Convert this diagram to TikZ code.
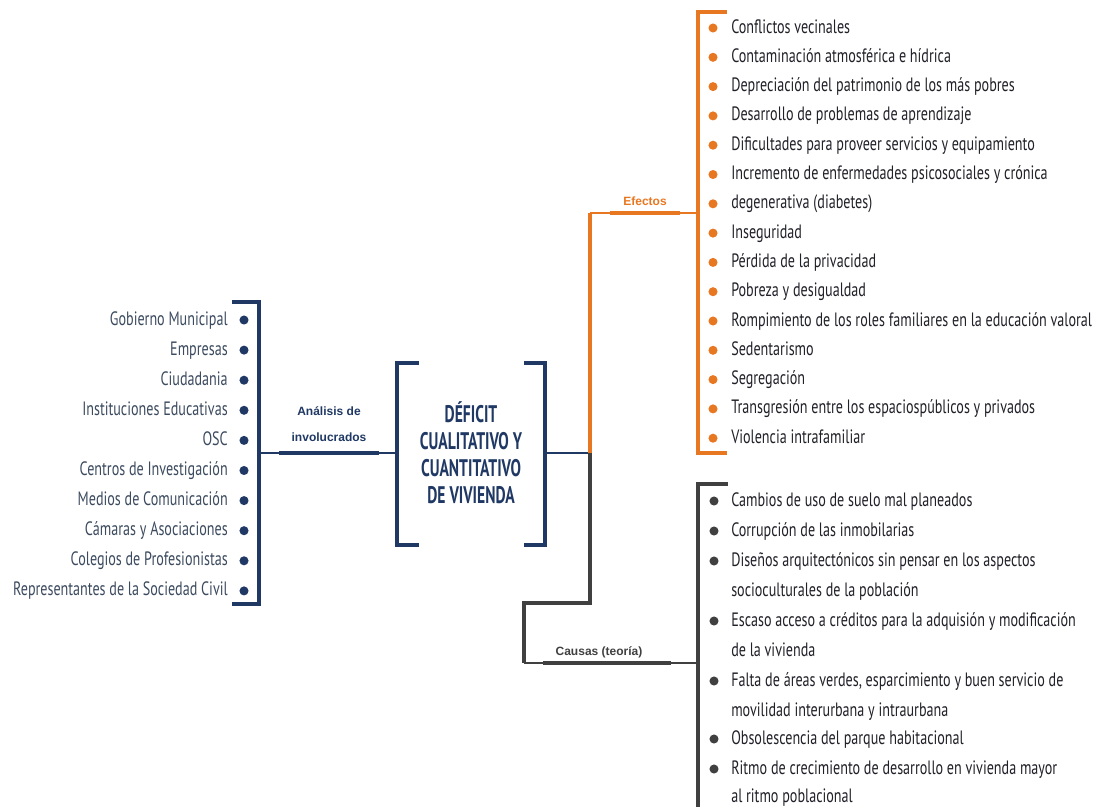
\documentclass[tikz,border=0pt]{standalone}
\usepackage{fontspec}
\newfontfamily\agency[FakeStretch=0.73]{PT Sans}
\newfontfamily\agencytitle[FakeStretch=0.65]{PT Sans}
\newfontfamily\labelfont{Liberation Sans}
\definecolor{DeficitNavy} {RGB}{31,56,100}
\definecolor{EffectOrange}{RGB}{232,119,34}
\definecolor{CauseGray}   {RGB}{64,64,64}
\definecolor{ListInk}     {RGB}{32,32,40}
\definecolor{ActorSlate}  {RGB}{59,74,94}
\usetikzlibrary{positioning,calc}

\begin{document}
\begin{tikzpicture}[x=0.75pt,y=-0.75pt,
  actor/.style={font=\agency\fontsize{14.5}{17}\selectfont,text=ActorSlate,
                anchor=east,inner sep=0pt,text height=10.5pt,text depth=3pt},
  item/.style={font=\agency\fontsize{14.5}{17}\selectfont,text=ListInk,
               anchor=west,inner sep=0pt,text height=10.5pt,text depth=3pt},
  branchlabel/.style={font=\labelfont\bfseries\fontsize{9}{20}\selectfont,
                      align=center,inner sep=0pt},
  bracket/.style={line width=2.3pt},
  thinlink/.style={line width=1.1pt},
  underline/.style={line width=2.5pt}]
  \useasboundingbox (0,0) rectangle (1106,807);

  %% Junction points
  \coordinate (actorsR)   at (259,453);
  \coordinate (deficitL)  at (397,453);
  \coordinate (deficitR)  at (545,453);
  \coordinate (hub)       at (590,453);
  \coordinate (effJoin)   at (590,213);
  \coordinate (effBrk)    at (698,213);
  \coordinate (causeA)    at (590,603);
  \coordinate (causeB)    at (524,603);
  \coordinate (causeC)    at (524,663);
  \coordinate (causeBrk)  at (698,663);

  %% Involved actors (left list)
  \foreach \txt [count=\i from 0] in {Gobierno Municipal,Empresas,Ciudadania,
      Instituciones Educativas,OSC,Centros de Investigación,
      Medios de Comunicación,Cámaras y Asociaciones,
      Colegios de Profesionistas,Representantes de la Sociedad Civil}{
    \node[actor] (actor\i) at (228,{320+30.1*\i}) {\txt};
    \fill[DeficitNavy] ($(actor\i.east)+(16,0)$) circle[radius=3.4pt];
  }
  \draw[DeficitNavy,bracket] (232,302) -- (259,302) -- (259,604) -- (232,604);

  %% Analysis label and link to the centre
  \draw[DeficitNavy,thinlink] (actorsR) -- (deficitL);
  \draw[DeficitNavy,underline] (279,453) -- (379,453);
  \node[branchlabel,text=DeficitNavy] (involved) at (329,424)
       {Análisis de\\involucrados};

  %% Central problem
  \node[font=\agencytitle\bfseries\fontsize{18}{20.3}\selectfont,
        text=DeficitNavy,align=center] (deficit) at (471,453)
       {DÉFICIT\\CUALITATIVO Y\\CUANTITATIVO\\DE VIVIENDA};
  \draw[DeficitNavy,bracket] (419,363) -- (397,363) -- (397,545) -- (419,545);
  \draw[DeficitNavy,bracket] (524,363) -- (545,363) -- (545,545) -- (524,545);
  \draw[DeficitNavy,line width=1.9pt] (deficitR) -- (hub);

  %% Effects branch
  \draw[EffectOrange,line width=2.3pt] (hub) -- (effJoin);
  \draw[EffectOrange,thinlink] (effJoin) -- (effBrk);
  \draw[EffectOrange,underline] (610,213) -- (680,213);
  \node[branchlabel,text=EffectOrange] (effects) at (645,201) {Efectos};
  \draw[EffectOrange,bracket] (727,12) -- (698,12) -- (698,453) -- (727,453);
  \foreach \txt [count=\i from 0] in {Conflictos vecinales,
      Contaminación atmosférica e hídrica,
      Depreciación del patrimonio de los más pobres,
      Desarrollo de problemas de aprendizaje,
      Dificultades para proveer servicios y equipamiento,
      Incremento de enfermedades psicosociales y crónica,
      degenerativa (diabetes),Inseguridad,Pérdida de la privacidad,
      Pobreza y desigualdad,
      Rompimiento de los roles familiares en la educación valoral,
      Sedentarismo,Segregación,
      Transgresión entre los espaciospúblicos y privados,
      Violencia intrafamiliar}{
    \node[item] (effect\i) at (731,{28+29.3*\i}) {\txt};
    \fill[EffectOrange] ($(effect\i.west)+(-18,0)$) circle[radius=3.4pt];
  }

  %% Causes branch
  \draw[CauseGray,line width=2.3pt] (hub) -- (causeA) -- (causeB) -- (causeC);
  \draw[CauseGray,thinlink] (causeC) -- (causeBrk);
  \draw[CauseGray,underline] (543,663) -- (671,663);
  \node[branchlabel,text=CauseGray] (causes) at (599,652) {Causas (teoría)};
  \draw[CauseGray,bracket] (728,484) -- (698,484) -- (698,807);
  \foreach \y/\txt/\b [count=\i] in {
      501/Cambios de uso de suelo mal planeados/1,
      531/Corrupción de las inmobilarias/1,
      561/Diseños arquitectónicos sin pensar en los aspectos/1,
      591/socioculturales de la población/0,
      621/Escaso acceso a créditos para la adquisión y modificación/1,
      651/de la vivienda/0,
      681/{Falta de áreas verdes, esparcimiento y buen servicio de}/1,
      711/movilidad interurbana y intraurbana/0,
      739/Obsolescencia del parque habitacional/1,
      769/Ritmo de crecimiento de desarrollo en vivienda mayor/1,
      797/al ritmo poblacional/0}{
    \node[item] (cause\i) at (731,\y) {\txt};
    \ifnum\b=1
      \fill[CauseGray] ($(cause\i.west)+(-17,0)$) circle[radius=3.4pt];
    \fi
  }
\end{tikzpicture}
\end{document}
